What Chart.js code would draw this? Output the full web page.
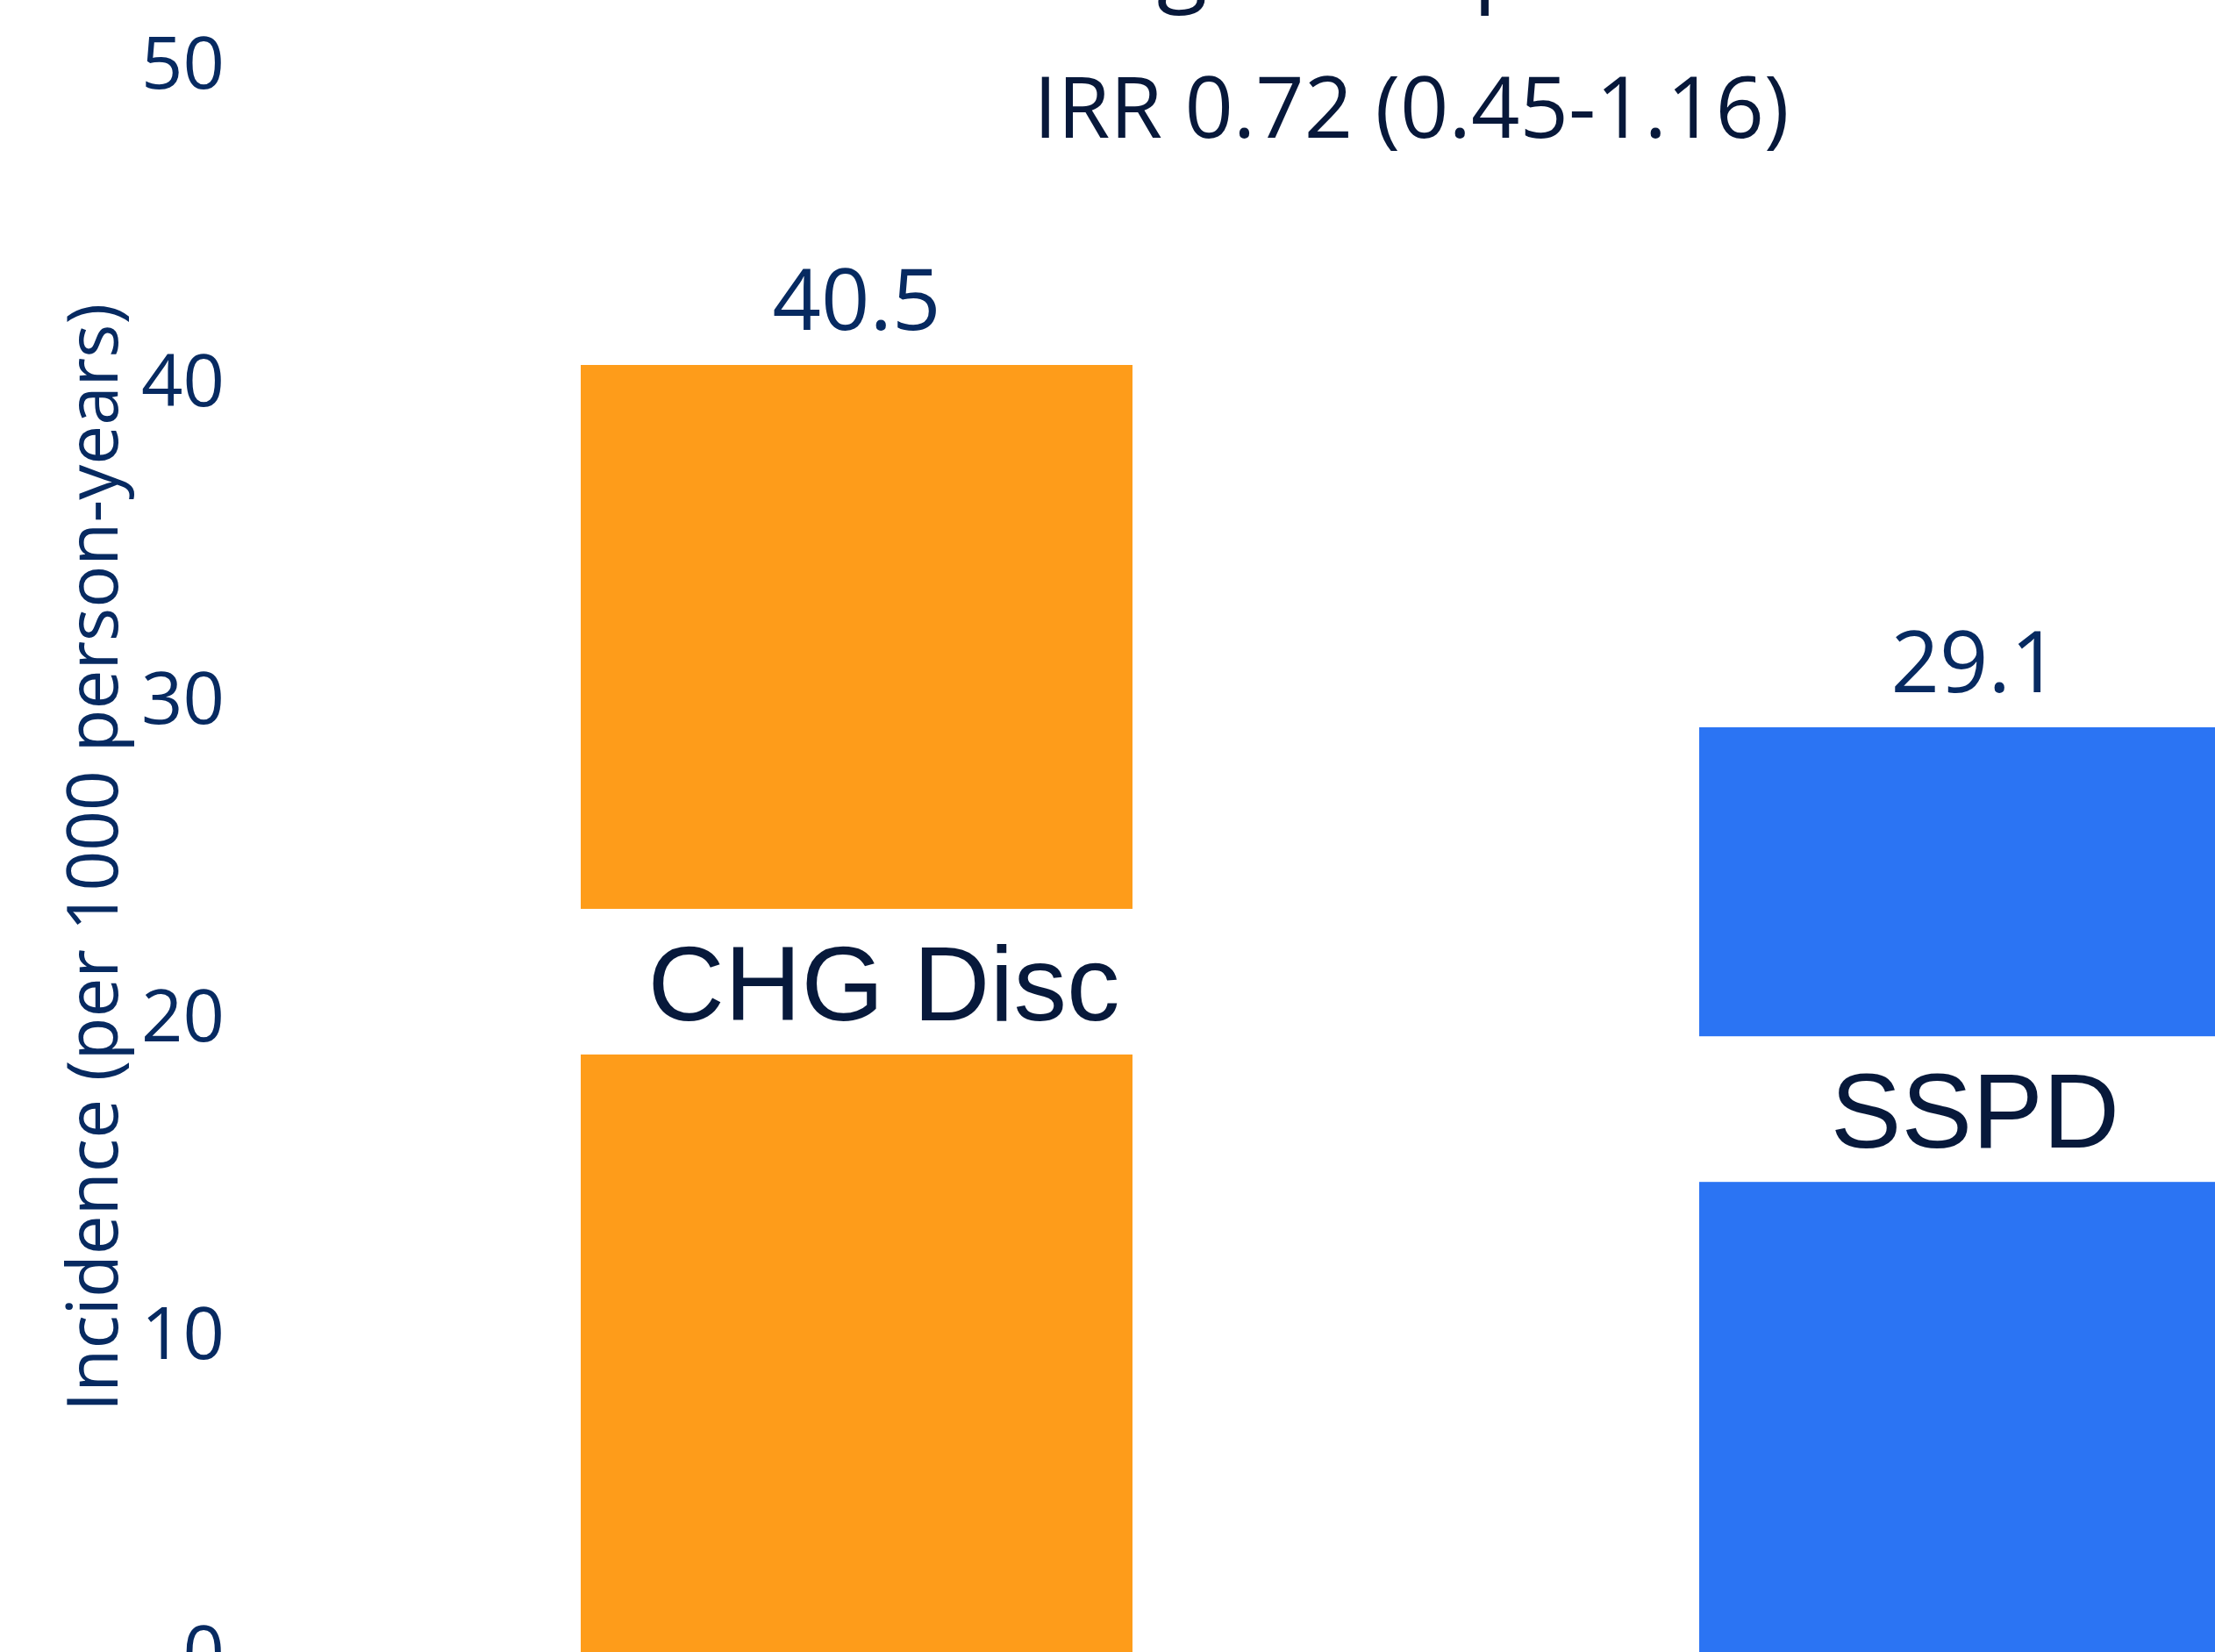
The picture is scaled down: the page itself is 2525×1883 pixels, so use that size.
<!DOCTYPE html>
<html><head><meta charset="utf-8">
<script src="https://cdn.jsdelivr.net/npm/chart.js@4/dist/chart.umd.min.js"></script>
<style>
html,body{margin:0;padding:0;background:#fff;overflow:hidden;width:2525px;height:1883px;}
#wrap{position:absolute;left:0;top:-150px;width:2900px;height:2173px;}
canvas{display:block;}
</style></head><body>
<div id="wrap"><canvas id="c" width="2900" height="2173"></canvas></div>
<script>
// ---- data ----
const categories = ['CHG Disc', 'SSPD'];
const incidence = [40.5, 29.1];
const valueLabels = ['40.5', '29.1'];
const yTicks = [0, 10, 20, 30, 40, 50];
// NOTE: the reference crops the main title off the top edge; only the descenders
// of a "g" and a "p" are visible. This text is a GUESS chosen to reproduce those
// fragments and is not the original title.
const titleText = 'High-risk patients';
const subtitleText = 'IRR 0.72 (0.45-1.16)';
const yAxisTitle = 'Incidence (per 1000 person-years)';
const barColors = ['#FE9C1A', '#2B74F3'];

const NAVY = '#072A61';

const annot = {
  id: 'annot',
  afterDatasetsDraw(chart, args, opts) {
    const ctx = chart.ctx;
    const meta = chart.getDatasetMeta(0);
    const ys = chart.scales.y;
    const area = chart.chartArea;
    const cx = (area.left + area.right) / 2;
    ctx.save();
    meta.data.forEach((bar, i) => {
      const p = bar.getProps(['x', 'y', 'width'], true);
      ctx.textAlign = 'center';
      ctx.textBaseline = 'alphabetic';
      ctx.font = '97px "Open Sans"';
      ctx.fillStyle = NAVY;
      ctx.fillText(valueLabels[i], p.x, p.y - opts.valueGap);
      const by = ys.getPixelForValue(opts.labelAt[i]);
      ctx.fillStyle = '#ffffff';
      ctx.fillRect(p.x - p.width / 2 - 1, by - 127, p.width + 2, 166);
      ctx.font = '121px "Liberation Sans"';
      ctx.fillStyle = '#07193B';
      ctx.fillText(categories[i], p.x + opts.labelDx[i], by);
    });
    ctx.textAlign = 'center';
    ctx.textBaseline = 'alphabetic';
    ctx.fillStyle = '#07183A';
    ctx.font = '97px "Open Sans"';
    ctx.fillText(subtitleText, cx + opts.subtitleDx, area.top + opts.subtitleBaseline);
    ctx.font = '106px "Open Sans"';
    ctx.fillText(titleText, cx + opts.titleDx, area.top + opts.titleBaseline);
    ctx.restore();
  }
};

function build() {
  new Chart(document.getElementById('c'), {
    type: 'bar',
    data: {
      labels: categories,
      datasets: [{
        data: incidence,
        backgroundColor: barColors,
        borderWidth: 0,
        categoryPercentage: 1,
        barPercentage: 0.4933
      }]
    },
    options: {
      responsive: false,
      devicePixelRatio: 1,
      animation: false,
      layout: { padding: { top: 222, bottom: 140, left: 0, right: 11 } },
      plugins: {
        legend: { display: false },
        title: { display: false },
        tooltip: { enabled: false },
        annot: {
          valueGap: 40,
          labelAt: [19.88, 15.87],
          labelDx: [31, 0],
          subtitleDx: -5,
          subtitleBaseline: 85,
          titleDx: 33,
          titleBaseline: -79
        }
      },
      scales: {
        x: { display: false, offset: true, grid: { display: false } },
        y: {
          min: 0, max: 50,
          afterBuildTicks(scale) { scale.ticks = yTicks.map(v => ({ value: v })); },
          afterFit(scale) { scale.width = 339; },
          grid: { display: false, drawTicks: false },
          border: { display: false },
          ticks: {
            font: { family: 'Open Sans', size: 83 },
            color: NAVY,
            padding: 83,
            labelOffset: 5
          },
          title: {
            display: true,
            text: yAxisTitle,
            font: { family: 'Open Sans', size: 80 },
            color: NAVY,
            padding: { top: 63, bottom: 0 }
          }
        }
      }
    },
    plugins: [annot]
  });
}

Promise.all([
  document.fonts.load('97px "Open Sans"'),
  document.fonts.load('121px "Liberation Sans"')
]).then(build, build);
</script>
</body></html>
